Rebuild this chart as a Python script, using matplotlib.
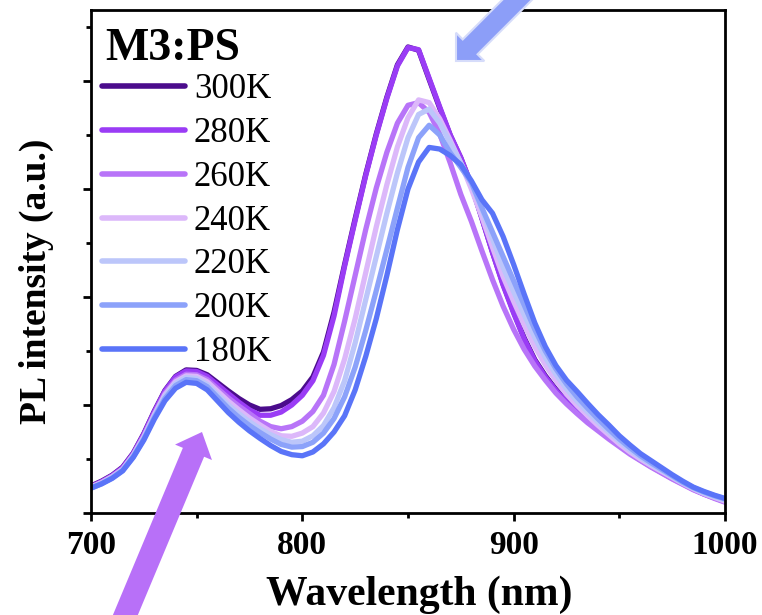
import numpy as np
import matplotlib
matplotlib.use("Agg")
import matplotlib.pyplot as plt
from matplotlib.patches import FancyArrow
from matplotlib.ticker import MultipleLocator

plt.rcParams['font.family'] = ['Liberation Serif', 'DejaVu Serif']

# wavelength grid (nm), 5 nm steps
wl = np.arange(700, 1001, 5)

labels = ['300K', '280K', '260K', '240K', '220K', '200K', '180K']
colors = ['#4b0c8c', '#9a3cf5', '#b874f8', '#dcb8fa', '#bcc6fa', '#8ca2fa', '#5a74f8']

pl_300 = [0.050, 0.059, 0.070, 0.085, 0.111, 0.147, 0.189, 0.227, 0.253, 0.265,
          0.264, 0.256, 0.241, 0.226, 0.212, 0.200, 0.192, 0.193, 0.199, 0.210,
          0.226, 0.252, 0.298, 0.372, 0.460, 0.545, 0.627, 0.702, 0.770, 0.830,
          0.863, 0.857, 0.803, 0.750, 0.699, 0.657, 0.607, 0.546, 0.483, 0.424,
          0.372, 0.324, 0.284, 0.254, 0.229, 0.208, 0.189, 0.172, 0.156, 0.141,
          0.126, 0.112, 0.099, 0.087, 0.076, 0.065, 0.055, 0.045, 0.036, 0.029,
          0.022]
pl_280 = [0.049, 0.058, 0.069, 0.084, 0.110, 0.146, 0.188, 0.226, 0.252, 0.263,
          0.262, 0.253, 0.237, 0.221, 0.205, 0.191, 0.181, 0.181, 0.187, 0.200,
          0.218, 0.245, 0.292, 0.365, 0.457, 0.542, 0.625, 0.700, 0.768, 0.828,
          0.862, 0.858, 0.805, 0.752, 0.700, 0.658, 0.607, 0.545, 0.482, 0.422,
          0.370, 0.322, 0.282, 0.252, 0.227, 0.206, 0.187, 0.170, 0.155, 0.140,
          0.125, 0.111, 0.098, 0.086, 0.075, 0.064, 0.054, 0.044, 0.035, 0.028,
          0.021]
pl_260 = [0.048, 0.057, 0.068, 0.082, 0.108, 0.143, 0.184, 0.222, 0.246, 0.257,
          0.256, 0.247, 0.230, 0.213, 0.198, 0.184, 0.170, 0.160, 0.156, 0.160,
          0.170, 0.188, 0.218, 0.275, 0.355, 0.440, 0.525, 0.602, 0.668, 0.722,
          0.755, 0.760, 0.742, 0.702, 0.648, 0.590, 0.540, 0.485, 0.432, 0.383,
          0.340, 0.303, 0.272, 0.246, 0.222, 0.202, 0.184, 0.167, 0.152, 0.137,
          0.123, 0.109, 0.097, 0.085, 0.074, 0.063, 0.053, 0.043, 0.035, 0.027,
          0.020]
pl_240 = [0.048, 0.056, 0.067, 0.081, 0.107, 0.141, 0.182, 0.219, 0.243, 0.254,
          0.253, 0.243, 0.225, 0.207, 0.191, 0.176, 0.163, 0.151, 0.143, 0.142,
          0.148, 0.160, 0.185, 0.225, 0.285, 0.360, 0.445, 0.530, 0.608, 0.678,
          0.732, 0.765, 0.760, 0.730, 0.690, 0.648, 0.600, 0.548, 0.492, 0.438,
          0.392, 0.348, 0.308, 0.274, 0.245, 0.220, 0.199, 0.180, 0.162, 0.145,
          0.128, 0.113, 0.100, 0.088, 0.077, 0.066, 0.055, 0.045, 0.036, 0.029,
          0.022]
pl_220 = [0.047, 0.055, 0.066, 0.080, 0.106, 0.139, 0.180, 0.216, 0.240, 0.251,
          0.249, 0.238, 0.219, 0.200, 0.184, 0.169, 0.156, 0.145, 0.136, 0.131,
          0.133, 0.143, 0.162, 0.195, 0.245, 0.315, 0.395, 0.475, 0.555, 0.630,
          0.695, 0.738, 0.748, 0.722, 0.685, 0.648, 0.610, 0.562, 0.508, 0.455,
          0.410, 0.367, 0.325, 0.288, 0.257, 0.230, 0.207, 0.187, 0.168, 0.150,
          0.133, 0.117, 0.103, 0.090, 0.079, 0.067, 0.056, 0.046, 0.037, 0.030,
          0.024]
pl_200 = [0.046, 0.054, 0.065, 0.079, 0.104, 0.137, 0.177, 0.212, 0.236, 0.247,
          0.245, 0.234, 0.214, 0.194, 0.177, 0.162, 0.149, 0.137, 0.127, 0.122,
          0.123, 0.131, 0.148, 0.175, 0.215, 0.270, 0.338, 0.412, 0.488, 0.565,
          0.640, 0.695, 0.718, 0.700, 0.667, 0.640, 0.612, 0.565, 0.520, 0.475,
          0.430, 0.385, 0.340, 0.300, 0.267, 0.239, 0.215, 0.194, 0.174, 0.155,
          0.137, 0.121, 0.106, 0.093, 0.081, 0.069, 0.057, 0.047, 0.039, 0.032,
          0.026]
pl_180 = [0.046, 0.054, 0.064, 0.078, 0.103, 0.135, 0.174, 0.208, 0.231, 0.242,
          0.240, 0.228, 0.207, 0.186, 0.168, 0.152, 0.138, 0.125, 0.114, 0.108,
          0.106, 0.113, 0.128, 0.150, 0.180, 0.228, 0.290, 0.360, 0.440, 0.525,
          0.600, 0.650, 0.677, 0.674, 0.662, 0.645, 0.615, 0.580, 0.555, 0.512,
          0.460, 0.405, 0.352, 0.308, 0.273, 0.246, 0.225, 0.203, 0.182, 0.163,
          0.143, 0.126, 0.110, 0.097, 0.084, 0.071, 0.059, 0.048, 0.040, 0.033,
          0.027]

series = [pl_300, pl_280, pl_260, pl_240, pl_220, pl_200, pl_180]

fig = plt.figure(figsize=(7.62, 6.15), dpi=100)
ax = fig.add_axes([91/762, 102/615, 634/762, 503/615])

for ys, lab, c in zip(series, labels, colors):
    ax.plot(wl, ys, color=c, lw=3.8, label=lab,
            solid_capstyle='round', solid_joinstyle='round')

ax.set_xlim(700, 1000)
ax.set_ylim(0, 503/540)
ax.xaxis.set_major_locator(MultipleLocator(100))
ax.xaxis.set_minor_locator(MultipleLocator(50))
ax.yaxis.set_major_locator(MultipleLocator(0.2))
ax.yaxis.set_minor_locator(MultipleLocator(0.1))
ax.tick_params(which='both', direction='out', width=2, top=False, right=False)
ax.tick_params(which='major', length=6)
ax.tick_params(which='minor', length=3.5)
ax.tick_params(axis='y', labelleft=False)
ax.tick_params(axis='x', labelsize=24, pad=6)
for t in ax.get_xticklabels():
    t.set_fontweight('bold')
for s in ax.spines.values():
    s.set_linewidth(2)

ax.set_xlabel('Wavelength (nm)', fontsize=30, fontweight='bold')
ax.xaxis.set_label_coords(0.518, -0.125)
ax.set_ylabel('PL intensity (a.u.)', fontsize=27, fontweight='bold')
ax.yaxis.set_label_coords(-0.058, 0.46)

# sample name above the legend
ax.text(0.022, 0.9, 'M3:PS', transform=ax.transAxes, fontsize=33,
        fontweight='bold', ha='left', va='baseline')

leg = ax.legend(loc='upper left', bbox_to_anchor=(0.017, 0.874), frameon=False,
                fontsize=25, handlelength=2.4, handletextpad=0.25,
                labelspacing=0.31, borderpad=0, borderaxespad=0)
for h in leg.get_lines():
    h.set_linewidth(4)

# arrows, drawn in inches from the figure's bottom-left corner
tr = fig.dpi_scale_trans
fig.add_artist(FancyArrow(5.35, 6.33, -0.79, -0.79, width=0.21, head_width=0.40,
                          head_length=0.20, length_includes_head=True,
                          facecolor='#8c9ef8', edgecolor='#d6dcfa', lw=1.5,
                          transform=tr, zorder=10))
fig.add_artist(FancyArrow(1.17, -0.20, 0.85, 2.03, width=0.23, head_width=0.40,
                          head_length=0.22, length_includes_head=True,
                          facecolor='#b870f8', edgecolor='none',
                          transform=tr, zorder=10))

fig.savefig('out.png', dpi=100)
